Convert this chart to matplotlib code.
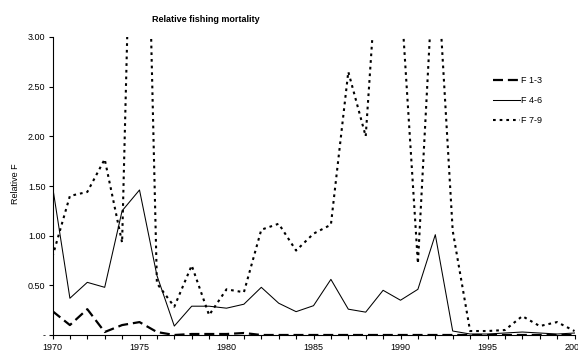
import matplotlib
matplotlib.use("Agg")
import matplotlib.pyplot as plt
from matplotlib.ticker import FixedLocator, FuncFormatter

plt.rcParams['font.family'] = ['Liberation Sans', 'DejaVu Sans']

years = list(range(1970, 2001))

f_1_3 = [0.24, 0.10, 0.26, 0.03, 0.10, 0.13, 0.03, 0.00, 0.01, 0.01,
         0.01, 0.02, 0.00, 0.00, 0.00, 0.00, 0.00, 0.00, 0.00, 0.00,
         0.00, 0.00, 0.00, 0.00, 0.00, 0.00, 0.00, 0.00, 0.00, 0.00, 0.00]

f_4_6 = [1.50, 0.37, 0.53, 0.48, 1.25, 1.46, 0.60, 0.09, 0.29, 0.29,
         0.27, 0.31, 0.48, 0.32, 0.235, 0.295, 0.56, 0.26, 0.23, 0.45,
         0.35, 0.46, 1.01, 0.04, 0.01, 0.01, 0.02, 0.03, 0.02, 0.01, 0.02]

f_7_9 = [0.79, 1.40, 1.44, 1.77, 0.93, 8.00, 0.52, 0.285, 0.70, 0.20,
         0.46, 0.43, 1.06, 1.12, 0.85, 1.02, 1.11, 2.65, 2.00, 4.60,
         3.48, 0.72, 4.05, 1.05, 0.04, 0.04, 0.05, 0.19, 0.09, 0.13, 0.04]

series_labels = ["F 1-3", "F 4-6", "F 7-9"]
y_ticks = [0.0, 0.5, 1.0, 1.5, 2.0, 2.5, 3.0]
x_labels = [1970, 1975, 1980, 1985, 1990, 1995, 2000]

W, H = 578, 351
fig = plt.figure(figsize=(W / 100, H / 100), dpi=100)
ax = fig.add_axes([52.5 / W, 1 - 335 / H, (574.5 - 52.5) / W, (335 - 37) / H])

ax.plot(years, f_1_3, color='black', lw=1.6, dashes=(4.5, 2.2),
        label=series_labels[0], solid_capstyle='butt', dash_capstyle='butt')
ax.plot(years, f_4_6, color='black', lw=0.75, label=series_labels[1])
ax.plot(years, f_7_9, color='black', lw=1.5, dashes=(1.3, 1.9),
        label=series_labels[2], dash_capstyle='butt')

ax.set_xlim(1970, 2000)
ax.set_ylim(0, 3.0)

for side in ('top', 'right'):
    ax.spines[side].set_visible(False)
for side in ('left', 'bottom'):
    ax.spines[side].set_linewidth(0.8)

ax.yaxis.set_major_locator(FixedLocator(y_ticks))
ax.yaxis.set_major_formatter(FuncFormatter(lambda v, p: '-' if v == 0 else f"{v:.2f}"))
ax.xaxis.set_major_locator(FixedLocator(years))
ax.xaxis.set_major_formatter(FuncFormatter(lambda v, p: str(int(round(v))) if int(round(v)) in x_labels else ''))

ax.tick_params(axis='y', direction='out', length=3, width=0.8, labelsize=6.5, pad=2)
ax.tick_params(axis='x', direction='out', length=3, width=0.8, labelsize=6.5, pad=3)

ax.set_ylabel("Relative F", fontsize=6.5)
ax.yaxis.set_label_coords(-0.062, 0.508)

fig.text(205.5 / W, 1 - 20 / H, "Relative fishing mortality", fontsize=6.5,
         fontweight='bold', ha='center', va='center')

leg = ax.legend(loc='upper left', bbox_to_anchor=(487 / W, 1 - 70 / H),
                bbox_transform=fig.transFigure, frameon=False, fontsize=6.5,
                handlelength=3.0, handletextpad=0.1, labelspacing=1.2,
                borderpad=0.2)

fig.savefig("out.png", dpi=100)
